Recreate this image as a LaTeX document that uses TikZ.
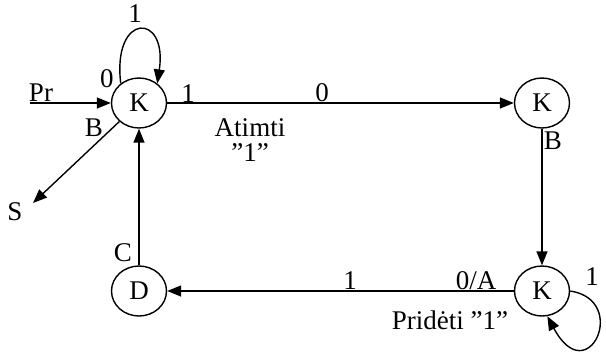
\documentclass[tikz,border=0pt]{standalone}
\usepackage{fontspec}
\setmainfont{Liberation Serif}
\usetikzlibrary{arrows.meta,positioning,shapes.geometric}

\begin{document}
\begin{tikzpicture}[x=0.5pt, y=-0.5pt, >={Triangle[length=7pt,width=5.5pt]},
    line width=0.7pt, font=\fontsize{13.5}{15}\selectfont,
    state/.style={draw, ellipse, minimum width=27.5pt, minimum height=25pt, inner sep=0pt},
    lbl/.style={inner sep=0pt}]
    \useasboundingbox (0,0) rectangle (606,354);
    % busenos
    \node[state] (k1) at (139,103) {K};
    \node[state] (k2) at (542,103) {K};
    \node[state] (k3) at (542,291) {K};
    \node[state] (d) at (139,291) {D};
    \path
    (30,103) coordinate (pr)
    (33,203) coordinate (s)
    ;

    \draw[->] (pr) -- (k1);
    \draw[->] (k1) -- (s);
    \draw[->] (k1) -- (k2);
    \draw[->] (k2) -- (k3);
    \draw[->] (k3) -- (d);
    \draw[->] (d) -- (k1);
    \draw[->] (k1.133) .. controls (112,12) and (168,12) .. (k1.47);
    \draw[->] (k3.east) .. controls (630,300) and (588,392) .. (k3.-78);

    % uzrasai
    \node[lbl] (tpr) at (41,93) {Pr};
    \node[lbl] (tloop1) at (135,14) {1};
    \node[lbl] (tzero1) at (107,79) {0};
    \node[lbl] (tb1) at (94,128) {B};
    \node[lbl] (ts) at (15,212) {S};
    \node[lbl] (tone1) at (188,94) {1};
    \node[lbl] (tzero2) at (322,93) {0};
    \node[lbl] (tatimti) at (250,128) {Atimti};
    \node[lbl] (tq1) at (250,153) {”1”};
    \node[lbl] (tb2) at (553,141) {B};
    \node[lbl] (tc) at (123,253) {C};
    \node[lbl] (tone2) at (350,281) {1};
    \node[lbl] (tza) at (476,281) {0/A};
    \node[lbl] (tprideti) at (450,320) {Pridėti ”1”};
    \node[lbl] (tloop2) at (592,277) {1};
\end{tikzpicture}
\end{document}
